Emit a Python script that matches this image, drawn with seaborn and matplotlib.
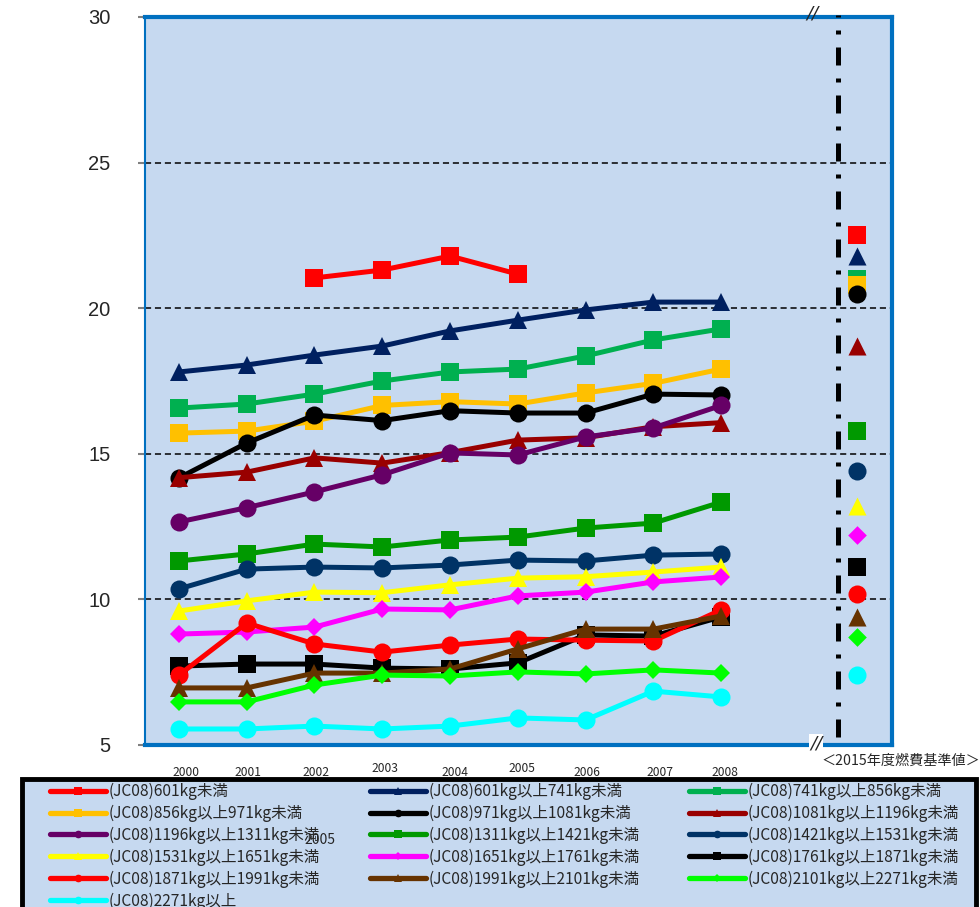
import numpy as np
import pandas as pd
import matplotlib
matplotlib.use("Agg")
import matplotlib.pyplot as plt
import seaborn as sns
from matplotlib.lines import Line2D
from matplotlib.patches import Rectangle

nan = np.nan

# ---------------- data ----------------
years = ["2000", "2001", "2002", "2003", "2004", "2005", "2006", "2007", "2008"]
categories = [
    "(JC08)601kg未満",
    "(JC08)601kg以上741kg未満",
    "(JC08)741kg以上856kg未満",
    "(JC08)856kg以上971kg未満",
    "(JC08)971kg以上1081kg未満",
    "(JC08)1081kg以上1196kg未満",
    "(JC08)1196kg以上1311kg未満",
    "(JC08)1311kg以上1421kg未満",
    "(JC08)1421kg以上1531kg未満",
    "(JC08)1531kg以上1651kg未満",
    "(JC08)1651kg以上1761kg未満",
    "(JC08)1761kg以上1871kg未満",
    "(JC08)1871kg以上1991kg未満",
    "(JC08)1991kg以上2101kg未満",
    "(JC08)2101kg以上2271kg未満",
    "(JC08)2271kg以上",
]
s601 = [nan, nan, 21.04, 21.31, 21.79, 21.17, nan, nan, nan]
s601_741 = [17.81, 18.05, 18.39, 18.70, 19.22, 19.59, 19.94, 20.21, 20.21]
s741_856 = [16.57, 16.71, 17.05, 17.50, 17.81, 17.91, 18.36, 18.91, 19.29]
s856_971 = [15.71, 15.78, 16.12, 16.66, 16.79, 16.71, 17.09, 17.42, 17.91]
s971_1081 = [14.17, 15.37, 16.33, 16.14, 16.48, 16.40, 16.40, 17.05, 17.02]
s1081_1196 = [14.18, 14.37, 14.86, 14.68, 15.04, 15.47, 15.55, 15.93, 16.07]
s1196_1311 = [12.66, 13.15, 13.69, 14.28, 15.03, 14.96, 15.58, 15.89, 16.66]
s1311_1421 = [11.32, 11.56, 11.90, 11.80, 12.04, 12.14, 12.45, 12.62, 13.34]
s1421_1531 = [10.36, 11.04, 11.11, 11.08, 11.18, 11.35, 11.32, 11.52, 11.56]
s1531_1651 = [9.60, 9.95, 10.25, 10.23, 10.50, 10.73, 10.78, 10.94, 11.11]
s1651_1761 = [8.81, 8.88, 9.05, 9.67, 9.64, 10.12, 10.25, 10.60, 10.77]
s1761_1871 = [7.71, 7.78, 7.78, 7.64, 7.61, 7.82, 8.78, 8.74, 9.40]
s1871_1991 = [7.40, 9.19, 8.47, 8.19, 8.43, 8.64, 8.60, 8.57, 9.64]
s1991_2101 = [6.96, 6.96, 7.47, 7.47, 7.61, 8.30, 8.98, 8.98, 9.43]
s2101_2271 = [6.48, 6.48, 7.06, 7.40, 7.37, 7.51, 7.44, 7.58, 7.47]
s2271 = [5.55, 5.55, 5.65, 5.55, 5.65, 5.93, 5.86, 6.85, 6.65]
series_values = [s601, s601_741, s741_856, s856_971, s971_1081, s1081_1196,
                 s1196_1311, s1311_1421, s1421_1531, s1531_1651, s1651_1761,
                 s1761_1871, s1871_1991, s1991_2101, s2101_2271, s2271]
# 2015 fuel economy standards (drawn at the right-hand position)
standard_2015 = [22.5, 21.8, 21.0, 20.8, 20.5, 18.7, nan, 15.8, 14.4, 13.2,
                 12.2, 11.1, 10.2, 9.4, 8.7, 7.4]
y_ticks = [5, 10, 15, 20, 25, 30]

# ---------------- styles ----------------
colors = ["#FF0000", "#002060", "#00B050", "#FFC000", "#000000", "#990000",
          "#660066", "#009900", "#003366", "#FFFF00", "#FF00FF", "#000000",
          "#FF0000", "#663300", "#00FF00", "#00FFFF"]
markers = ["s", "^", "s", "s", "o", "^", "o", "s", "o", "^", "D", "s",
           "o", "^", "D", "o"]
msize = {"s": 13, "^": 13, "o": 13, "D": 9.5}

sns.set_style("white")
plt.rcParams["font.family"] = ["Noto Sans CJK JP", "DejaVu Sans"]

W, H = 980, 907
fig = plt.figure(figsize=(W / 100, H / 100), dpi=100)
L, R, T, B = 145, 892, 17, 745
ax = fig.add_axes([L / W, 1 - B / H, (R - L) / W, (B - T) / H])
ax.set_facecolor("#C6D9F0")

xs = np.arange(len(years))
df = pd.DataFrame({"x": np.tile(xs, len(categories)),
                   "cat": np.repeat(categories, len(years)),
                   "y": np.concatenate([np.array(v, float) for v in series_values])})

for i, cat in enumerate(categories):
    sub = df[df["cat"] == cat].dropna()
    m = markers[i]
    sns.lineplot(data=sub, x="x", y="y", color=colors[i], marker=m,
                 markersize=msize[m], markeredgewidth=0, linewidth=3.6,
                 ax=ax, legend=False, zorder=3 + i * 0.01)

std_x = 10.0
for i, cat in enumerate(categories):
    if np.isnan(standard_2015[i]):
        continue
    m = markers[i]
    sns.scatterplot(x=[std_x], y=[standard_2015[i]], color=colors[i], marker=m,
                    s=msize[m] ** 2, linewidth=0, ax=ax, legend=False,
                    zorder=4 + i * 0.01)

# dash-dot separator
ax.plot([9.73, 9.73], [5.27, 30.07], color="black", lw=3.6,
        linestyle=(0, (3.6, 2.6, 0.8, 2.6)), clip_on=False, zorder=5)

ax.set_xlim(-0.5, 10.52)
ax.set_ylim(5, 30)
ax.set_yticks(y_ticks)
ax.set_yticklabels([str(t) for t in y_ticks], fontfamily="Liberation Sans", fontsize=14.5)
ax.set_xticks([])
ax.set_xlabel("")
ax.set_ylabel("")
ax.tick_params(axis="y", direction="out", length=5, width=1.5, color="#808080",
               pad=20, left=True)
for yv in [10, 15, 20, 25]:
    ax.axhline(yv, color="black", lw=1.1, linestyle=(0, (4, 2.5)), zorder=1)

for side in ["top", "right", "bottom"]:
    ax.spines[side].set_color("#0070C0")
    ax.spines[side].set_linewidth(3)
ax.spines["left"].set_color("#0070C0")
ax.spines["left"].set_linewidth(1.5)

# break marks
fig.text(812 / W, 1 - 13 / H, "//", fontsize=13, ha="center", va="center",
         family="DejaVu Sans", style="italic")
fig.text(816 / W, 1 - 744 / H, "//", fontsize=13, ha="center", va="center",
         family="DejaVu Sans", style="italic",
         bbox=dict(facecolor="white", edgecolor="none", pad=0.5))

# year labels (as positioned in the original)
label_px = [(186, 772), (248, 772), (316, 772), (385, 768), (455, 772),
            (522, 768), (587, 772), (660, 772), (725, 772)]
for lab, (px, py) in zip(years, label_px):
    fig.text(px / W, 1 - py / H, lab, fontsize=8.7, ha="center", va="center")
fig.text(320 / W, 1 - 840 / H, years[5], fontsize=10, ha="center", va="center")
fig.text(901 / W, 1 - 761 / H, "＜2015年度燃費基準値＞", fontsize=10.2,
         ha="center", va="center")

# legend frame
fig.patches.append(Rectangle((22 / W, -0.05), (976 - 22) / W, 0.05 + 1 - 779 / H,
                             transform=fig.transFigure, facecolor="#C6D9F0",
                             edgecolor="black", lw=3.5, zorder=0))

handles = [Line2D([], [], color=colors[i], lw=3.8, marker=markers[i],
                  markersize=5.5 if markers[i] != "D" else 4, markeredgewidth=0)
           for i in range(len(categories))]
col_x = [50, 370, 689]
for c in range(3):
    idx = list(range(c, len(categories), 3))
    fig.legend([handles[i] for i in idx], [categories[i] for i in idx],
               loc="upper left", bbox_to_anchor=(col_x[c] / W, 1 - 783 / H),
               frameon=False, fontsize=11.2, handlelength=3.6, handletextpad=0.2,
               borderpad=0, borderaxespad=0, labelspacing=0.3)

fig.savefig("out.png", dpi=100)
